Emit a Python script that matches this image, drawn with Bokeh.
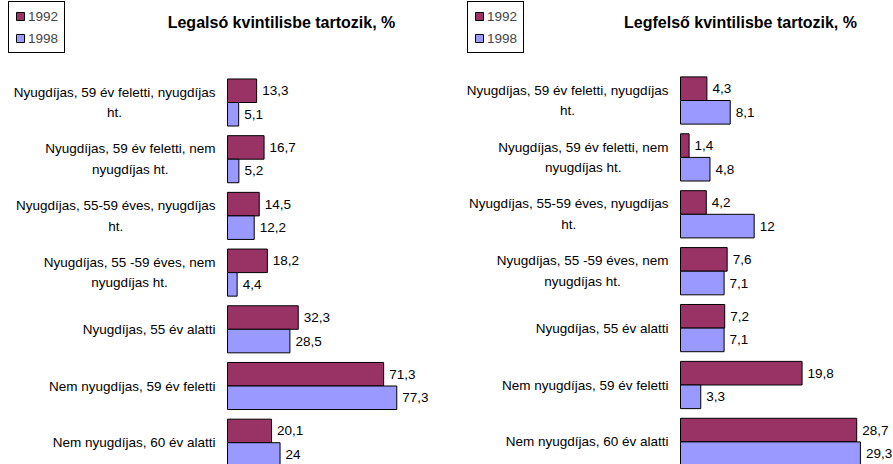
from bokeh.plotting import figure
from bokeh.models import ColumnDataSource, Range1d, Legend, LegendItem, Label
from bokeh.layouts import row
from bokeh.embed import file_html
from bokeh.resources import INLINE
from bokeh.core.properties import value

# ---------------- data ----------------
categories = [
    "Nyugdíjas, 59 év feletti, nyugdíjas\nht.",
    "Nyugdíjas, 59 év feletti, nem\nnyugdíjas ht.",
    "Nyugdíjas, 55-59 éves, nyugdíjas\nht.",
    "Nyugdíjas, 55 -59 éves, nem\nnyugdíjas ht.",
    "Nyugdíjas, 55 év alatti",
    "Nem nyugdíjas, 59 év feletti",
    "Nem nyugdíjas, 60 év alatti",
]
years = ["1992", "1998"]
bottom_1992 = [13.3, 16.7, 14.5, 18.2, 32.3, 71.3, 20.1]
bottom_1998 = [5.1, 5.2, 12.2, 4.4, 28.5, 77.3, 24]
top_1992 = [4.3, 1.4, 4.2, 7.6, 7.2, 19.8, 28.7]
top_1998 = [8.1, 4.8, 12, 7.1, 7.1, 3.3, 29.3]
titles = ["Legalsó kvintilisbe tartozik, %", "Legfelső kvintilisbe tartozik, %"]

# ---------------- style ----------------
FONT = "Liberation Sans"
C92 = "#993366"
C98 = "#9999FF"
H = 464
BAR_H = 0.415
FS = "13.5px"


def fmt(v):
    return f"{v:g}".replace(".", ",")


def panel(title, v92, v98, width, xr, yr, title_x, legend_x):
    p = figure(width=width, height=H, x_range=Range1d(*xr), y_range=Range1d(*yr),
               x_axis_type=None, y_axis_type=None, toolbar_location=None,
               output_backend="svg", min_border=0, outline_line_color=None,
               background_fill_color="white", border_fill_color="white")
    p.xgrid.visible = False
    p.ygrid.visible = False
    idx = list(range(len(categories)))
    y92 = [i - BAR_H / 2 for i in idx]
    y98 = [i + BAR_H / 2 for i in idx]
    s92 = ColumnDataSource(dict(y=y92, v=v92, t=[fmt(v) for v in v92]))
    s98 = ColumnDataSource(dict(y=y98, v=v98, t=[fmt(v) for v in v98]))
    r92 = p.hbar(y="y", left=0, right="v", height=BAR_H, source=s92,
                 fill_color=C92, line_color="black", line_width=1)
    r98 = p.hbar(y="y", left=0, right="v", height=BAR_H, source=s98,
                 fill_color=C98, line_color="black", line_width=1)
    for s in (s92, s98):
        p.text(x="v", y="y", text="t", source=s, x_offset=5.5,
               text_font=value(FONT), text_font_size=FS,
               text_align="left", text_baseline="middle", text_color="black")
    cs = ColumnDataSource(dict(y=idx, x=[0] * len(idx), t=categories))
    p.text(x="x", y="y", text="t", source=cs, x_offset=-12,
           text_font=value(FONT), text_font_size=FS,
           text_align="center", anchor="center_right", text_baseline="middle",
           text_line_height=1.38, text_color="black")
    p.add_layout(Label(x=title_x, y=H - 22, x_units="screen", y_units="screen",
                       text=title, text_font=FONT, text_font_size="16px",
                       text_font_style="bold", text_align="center",
                       text_baseline="middle", text_color="black"))
    leg = Legend(items=[LegendItem(label=years[0], renderers=[r92]),
                        LegendItem(label=years[1], renderers=[r98])],
                 location=(legend_x, H - 53), orientation="vertical",
                 glyph_width=10, glyph_height=10, label_height=16,
                 label_standoff=3, spacing=6, padding=6, margin=0,
                 label_text_font=FONT, label_text_font_size=FS,
                 border_line_color="black", border_line_width=1,
                 border_line_alpha=1,
                 background_fill_color="white", background_fill_alpha=1)
    p.add_layout(leg)
    return p


p1 = panel(titles[0], bottom_1992, bottom_1998, 453,
           ((0 - 227) / 2.19, (453 - 227) / 2.19),
           ((464 - 102) / 56.7, (0 - 102) / 56.7), 281, 8)
p2 = panel(titles[1], top_1992, top_1998, 440,
           ((453 - 680) / 6.14, (893 - 680) / 6.14),
           ((464 - 100) / 56.9, (0 - 100) / 56.9), 287, 14)

layout = row(p1, p2, spacing=0)
open("out.html", "w").write(file_html(layout, INLINE))
